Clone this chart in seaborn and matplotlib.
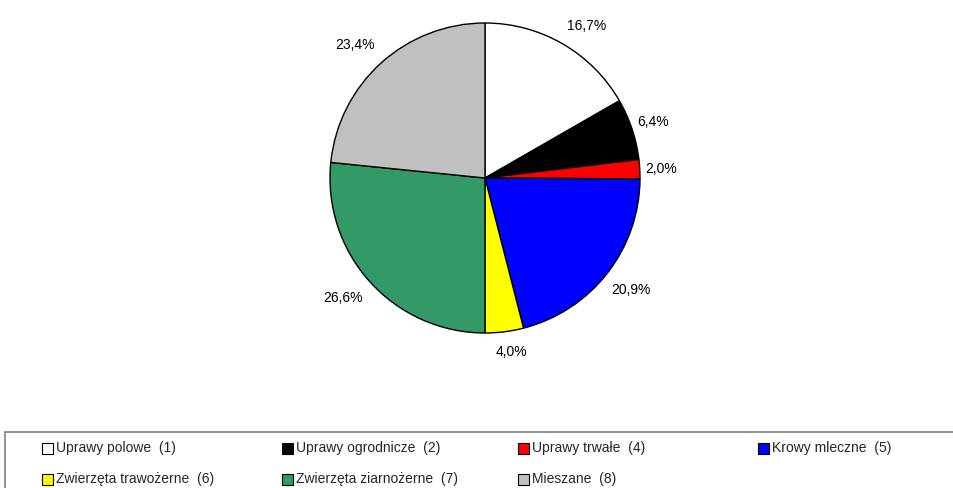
import matplotlib
matplotlib.use("Agg")
import matplotlib.pyplot as plt
import seaborn as sns
import numpy as np
from matplotlib.patches import Rectangle

# --- data ---
labels = ["Uprawy polowe  (1)", "Uprawy ogrodnicze  (2)", "Uprawy trwałe  (4)",
          "Krowy mleczne  (5)", "Zwierzęta trawożerne  (6)",
          "Zwierzęta ziarnożerne  (7)", "Mieszane  (8)"]
shares = [16.7, 6.4, 2.0, 20.9, 4.0, 26.6, 23.4]
colors = ["#FFFFFF", "#000000", "#FF0000", "#0000FF", "#FFFF00", "#339966", "#C0C0C0"]
# placement of the percentage labels (radius in pie radii, angle nudge in degrees)
label_r = [1.18, 1.14, 1.14, 1.19, 1.135, 1.20, 1.20]
label_da = [-3.6, 0.0, -0.3, 0.4, 1.3, -1.9, 2.2]

sns.set_theme(style="white")
plt.rcParams["font.family"] = ["Liberation Sans Narrow", "Liberation Sans", "DejaVu Sans"]

W, H = 954, 488
fig = plt.figure(figsize=(W / 100, H / 100), dpi=100)

# pie: centre (485,178) px, radius 155 px
r = 155
ax = fig.add_axes([(485 - r) / W, (H - 178 - r) / H, 2 * r / W, 2 * r / H])
wedges, _ = ax.pie(
    shares, colors=colors, startangle=90, counterclock=False,
    wedgeprops=dict(edgecolor="black", linewidth=1.0),
)
for w, v, d, da in zip(wedges, shares, label_r, label_da):
    ang = np.deg2rad((w.theta1 + w.theta2) / 2 + da)
    ax.text(d * np.cos(ang), d * np.sin(ang), f"{v:.1f}%".replace(".", ","),
            ha="center", va="center", fontsize=10, color="black")
ax.set_xlim(-1, 1)
ax.set_ylim(-1, 1)
ax.set_aspect("equal")
ax.axis("off")

# legend box at bottom (runs off the right and bottom edges)
fig.patches.append(Rectangle((5 / W, -0.05), 1.1, (H - 432) / H + 0.05,
                             transform=fig.transFigure, facecolor="white",
                             edgecolor="#808080", linewidth=1.2, zorder=0))
col_x = [42, 282, 518, 758]
row_y = [448, 479]
sw = 11
for i, (lab, c) in enumerate(zip(labels, colors)):
    x = col_x[i % 4]
    y = row_y[i // 4]
    fig.patches.append(Rectangle((x / W, (H - y - sw / 2) / H), sw / W, sw / H,
                                 transform=fig.transFigure, facecolor=c,
                                 edgecolor="black", linewidth=0.8, zorder=2))
    fig.text((x + sw + 3) / W, (H - y) / H, lab, fontsize=10, ha="left", va="center")

fig.savefig("out.png", dpi=100)
